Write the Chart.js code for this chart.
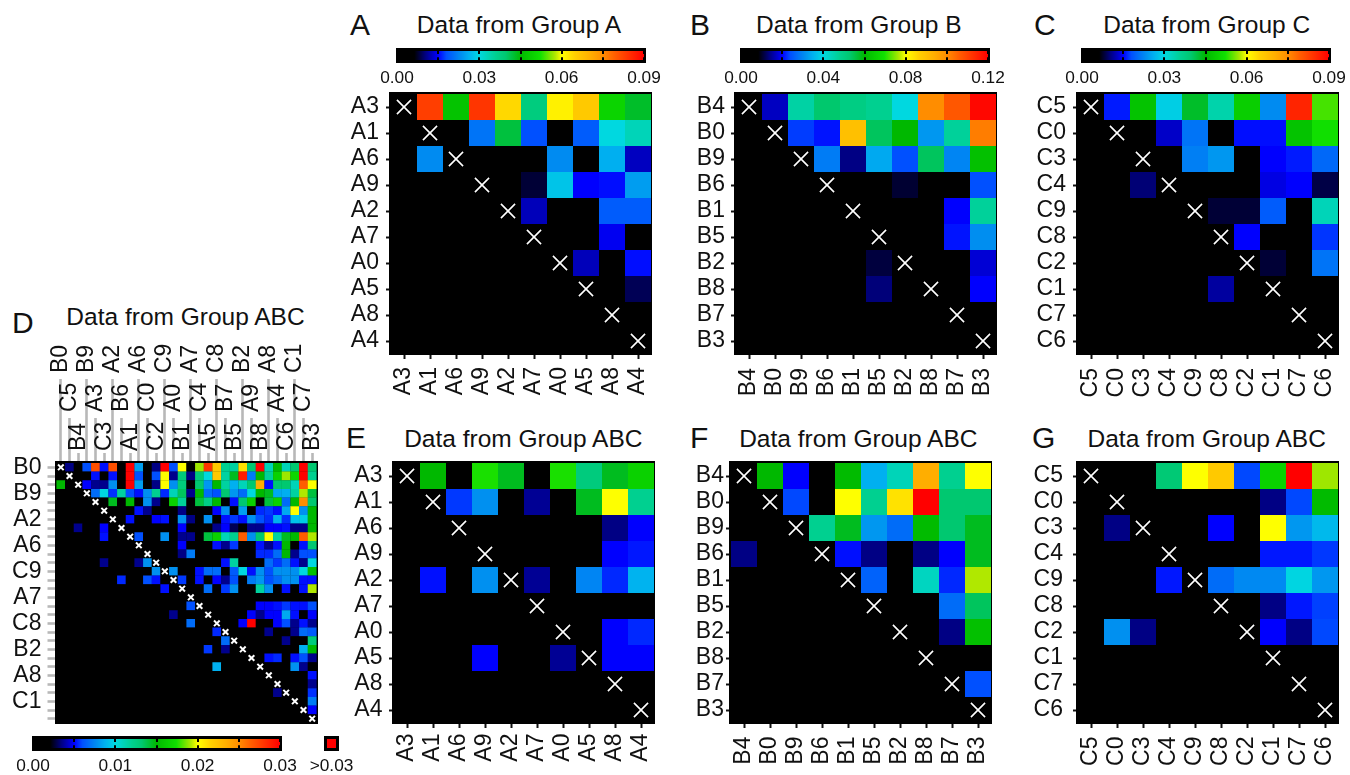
<!DOCTYPE html>
<html>
<head>
<meta charset="utf-8">
<script src="https://cdn.jsdelivr.net/npm/chart.js@4"></script>
<style>
    body { margin: 0; background: #fff; overflow: hidden; font-family: "Liberation Sans", sans-serif; color: #111; }
    canvas { position: absolute; }
    .letter { position: absolute; font-size: 30px; line-height: 30px; }
    .title { position: absolute; font-size: 24.5px; line-height: 30px; white-space: nowrap; transform: translateX(-50%); }
</style>
</head>
<body>
<script>
// all values are in units of 0.001
const labelsA = ['A3', 'A1', 'A6', 'A9', 'A2', 'A7', 'A0', 'A5', 'A8', 'A4']
const labelsB = ['B4', 'B0', 'B9', 'B6', 'B1', 'B5', 'B2', 'B8', 'B7', 'B3']
const labelsC = ['C5', 'C0', 'C3', 'C4', 'C9', 'C8', 'C2', 'C1', 'C7', 'C6']
const labelsD = ['B0', 'C5', 'B4', 'B9', 'A3', 'C3', 'A2', 'B6', 'A1', 'A6', 'C0', 'C2', 'C9', 'A0', 'B1',
    'A7', 'C4', 'A5', 'C8', 'B7', 'B5', 'B2', 'A9', 'B8', 'A8', 'A4', 'C6', 'C1', 'C7', 'B3']

const rangeA = 90
const rangeB = 120
const rangeC = 90
const rangeD = 30

const valuesA = [
    [0, 83, 47, 84, 64, 38, 61.5, 66, 50, 43],
    [0, 0, 0, 21, 42, 18, 0, 19, 30, 33],
    [0, 23, 0, 0, 0, 0, 23, 0, 26, 12.7],
    [0, 0, 0, 0, 0, 8, 28, 15, 15.5, 24.5],
    [0, 0, 0, 0, 0, 12.5, 0, 0, 19, 19],
    [0, 0, 0, 0, 0, 0, 0, 0, 14.5, 0],
    [0, 0, 0, 0, 0, 0, 0, 12.5, 0, 15.5],
    [0, 0, 0, 0, 0, 0, 0, 0, 0, 9],
    [0, 0, 0, 0, 0, 0, 0, 0, 0, 0],
    [0, 0, 0, 0, 0, 0, 0, 0, 0, 0],
]
const valuesB = [
    [0, 17, 46, 53, 50, 48, 40, 100, 107, 119],
    [0, 0, 23, 21, 90, 54, 60, 32, 47, 102],
    [0, 0, 0, 29, 14, 34, 24, 54, 30, 62],
    [0, 0, 0, 0, 0, 0, 10.5, 0, 0, 24],
    [0, 0, 0, 0, 0, 0, 0, 0, 20, 47],
    [0, 0, 0, 0, 0, 0, 0, 0, 21, 31],
    [0, 0, 0, 0, 0, 11, 0, 0, 0, 18],
    [0, 0, 0, 0, 0, 13.5, 0, 0, 0, 20],
    [0, 0, 0, 0, 0, 0, 0, 0, 0, 0],
    [0, 0, 0, 0, 0, 0, 0, 0, 0, 0],
]
const valuesC = [
    [0, 16, 47, 29, 43, 34, 49, 23, 86, 54],
    [0, 0, 0, 13, 21, 0, 15.5, 15.5, 47, 52],
    [0, 0, 0, 0, 22, 24, 0, 15, 16, 20],
    [0, 0, 10, 0, 0, 0, 0, 14, 15, 8.5],
    [0, 0, 0, 0, 0, 8, 8, 19, 0, 33],
    [0, 0, 0, 0, 0, 0, 15, 0, 0, 17],
    [0, 0, 0, 0, 0, 0, 0, 8, 0, 21],
    [0, 0, 0, 0, 0, 11.5, 0, 0, 0, 0],
    [0, 0, 0, 0, 0, 0, 0, 0, 0, 0],
    [0, 0, 0, 0, 0, 0, 0, 0, 0, 0],
]
const valuesE = [
    [0, 15, 0, 17.5, 14.5, 0, 17.5, 12.7, 14.5, 16.5],
    [0, 0, 5.7, 7.8, 0, 3.7, 0, 14.5, 20, 12],
    [0, 0, 0, 0, 0, 0, 0, 0, 3.5, 5],
    [0, 0, 0, 0, 0, 0, 0, 0, 5, 5.3],
    [0, 5.2, 0, 7.8, 0, 3.7, 0, 7.5, 5.5, 8.8],
    [0, 0, 0, 0, 0, 0, 0, 0, 0, 0],
    [0, 0, 0, 0, 0, 0, 0, 0, 5, 5.5],
    [0, 0, 0, 5, 0, 0, 3.7, 0, 5, 5],
    [0, 0, 0, 0, 0, 0, 0, 0, 0, 0],
    [0, 0, 0, 0, 0, 0, 0, 0, 0, 0],
]
const valuesF = [
    [0, 15, 5, 0, 15.2, 8.7, 11, 23.5, 12, 20],
    [0, 0, 5.9, 0, 20, 12, 21, 30, 13.2, 13.2],
    [0, 0, 0, 12, 14.5, 8, 6.8, 15.2, 13.2, 14.5],
    [3.5, 0, 0, 0, 5.2, 3.5, 0, 3.5, 5, 14.5],
    [0, 0, 0, 0, 0, 6.5, 0, 10.8, 5.5, 19.2],
    [0, 0, 0, 0, 0, 0, 0, 0, 6.8, 13.5],
    [0, 0, 0, 0, 0, 0, 0, 0, 3.5, 15.5],
    [0, 0, 0, 0, 0, 0, 0, 0, 0, 0],
    [0, 0, 0, 0, 0, 0, 0, 0, 0, 6],
    [0, 0, 0, 0, 0, 0, 0, 0, 0, 0],
]
const valuesG = [
    [0, 0, 0, 13, 20, 22, 5.9, 16.5, 30, 19],
    [0, 0, 0, 0, 0, 0, 0, 3.5, 5.9, 15.2],
    [0, 3.5, 0, 0, 0, 5, 0, 20, 8, 9],
    [0, 0, 0, 0, 0, 0, 0, 5.3, 5.3, 5.7],
    [0, 0, 0, 5.3, 0, 6.8, 7.6, 7.6, 9.9, 8],
    [0, 0, 0, 0, 0, 0, 0, 3.5, 5.3, 5.8],
    [0, 7.8, 3.5, 0, 0, 0, 0, 5, 3.5, 5.9],
    [0, 0, 0, 0, 0, 0, 0, 0, 0, 0],
    [0, 0, 0, 0, 0, 0, 0, 0, 0, 0],
    [0, 0, 0, 0, 0, 0, 0, 0, 0, 0],
]
const valuesD = [
    [0, 3.5, 0, 6, 27, 5.2, 27, 0, 30, 8.2, 0, 3.5, 30, 6, 20, 0, 19, 28, 22, 12, 11.6, 21, 13.2, 30, 11, 15, 11, 13.2, 30, 13.2],
    [0, 0, 0, 0, 5.2, 0, 5.2, 0, 30, 6, 0, 6, 20, 3.6, 12.8, 3.5, 12.8, 10, 22, 11.6, 14.5, 29, 7.2, 15, 11.8, 16.5, 19, 16.8, 30, 12],
    [15, 0, 0, 5, 3.6, 3.6, 7.8, 0, 30, 8.2, 0, 3.5, 20, 7.8, 12.8, 0, 13.2, 8, 15, 11.6, 8.7, 11, 13.2, 23.5, 5.2, 13.2, 13.2, 11, 26.5, 20],
    [0, 0, 0, 0, 6.8, 10, 5.6, 11.6, 6, 5.2, 7.8, 12, 5.5, 11, 13.5, 3.6, 15, 6.8, 6, 13.2, 8, 6.8, 10, 15, 14.5, 8.5, 8.7, 11.6, 19.2, 14],
    [0, 0, 0, 0, 0, 0, 14.5, 0, 15, 0, 7.8, 3.6, 0, 16.5, 11.8, 0, 14, 12.4, 15, 0, 5.2, 13.2, 16.5, 0, 14, 16.5, 6.8, 15, 25, 13.2],
    [0, 0, 0, 0, 0, 0, 0, 0, 0, 5.2, 3.6, 0, 0, 0, 3.5, 0, 0, 0, 5, 7.8, 0, 8.2, 0, 5.5, 5.7, 5.2, 8.5, 20, 7.8, 15],
    [0, 0, 0, 0, 0, 0, 0, 0, 5.2, 0, 0, 5, 5.2, 0, 7.8, 3.5, 0, 7.8, 0, 5.2, 5.7, 5.2, 7.8, 6, 5.5, 8.7, 5.6, 9.3, 9.6, 15],
    [0, 0, 3.6, 0, 0, 5, 0, 0, 0, 0, 0, 0, 0, 0, 5, 0, 0, 0, 3.6, 5, 3, 0, 3.6, 3.6, 5, 5, 5.2, 3.5, 3.6, 15],
    [0, 0, 0, 0, 0, 5.2, 0, 0, 0, 6, 0, 0, 7.8, 0, 3.6, 3.6, 0, 14, 16.5, 11, 12, 26.5, 7.8, 13.2, 20, 11.6, 14.5, 15, 26.5, 19.2],
    [0, 0, 0, 0, 0, 0, 0, 0, 0, 0, 0, 0, 0, 0, 5, 0, 0, 0, 5.2, 3.6, 5.7, 0, 0, 5.2, 3.6, 5.2, 15, 0, 5.2, 13.2],
    [0, 0, 0, 0, 0, 0, 0, 0, 0, 0, 0, 0, 0, 0, 3.5, 7.2, 0, 0, 0, 0, 0, 0, 0, 5.5, 5.5, 6.8, 15, 3.6, 6, 6],
    [0, 0, 0, 0, 0, 3.6, 0, 0, 0, 3.6, 7.8, 0, 0, 0, 0, 0, 0, 0, 0, 5.2, 11.6, 0, 0, 0, 6.8, 5.7, 6.8, 5.2, 3.6, 10],
    [0, 0, 0, 0, 0, 0, 0, 0, 0, 0, 0, 7.8, 0, 7.8, 0, 0, 5.2, 6.8, 6.8, 0, 6.3, 10, 5.2, 7.8, 6, 7.8, 7.8, 7.8, 10, 15.5],
    [0, 0, 0, 0, 0, 0, 0, 5.5, 0, 0, 6, 5.2, 0, 0, 5.7, 0, 5.2, 0, 5, 3.6, 6, 0, 7.2, 8, 6, 6.8, 7.8, 7.8, 5.2, 5.2],
    [0, 0, 0, 0, 0, 0, 0, 0, 0, 0, 0, 0, 5.2, 0, 0, 0, 0, 6.8, 0, 5.7, 7.8, 0, 0, 11.6, 7.8, 0, 5.2, 0, 5.2, 19.2],
    [0, 0, 0, 0, 0, 0, 0, 0, 0, 0, 0, 0, 0, 0, 0, 0, 0, 0, 0, 0, 0, 0, 0, 0, 0, 0, 0, 0, 0, 0],
    [0, 0, 0, 0, 0, 0, 0, 0, 0, 0, 0, 0, 0, 0, 0, 6, 0, 0, 0, 0, 0, 0, 0, 5, 5, 5.2, 5.7, 5.2, 5.2, 6],
    [0, 0, 0, 0, 0, 0, 0, 0, 0, 0, 0, 0, 0, 3.6, 0, 0, 0, 0, 0, 0, 0, 0, 5, 3.6, 5, 5, 8.5, 5.2, 0, 5],
    [0, 0, 0, 0, 0, 0, 0, 0, 0, 0, 0, 0, 0, 0, 0, 6.8, 0, 0, 0, 0, 0, 5, 30, 0, 0, 5, 6, 3.6, 5.2, 3.6],
    [0, 0, 0, 0, 0, 0, 0, 0, 0, 0, 0, 0, 0, 0, 0, 0, 0, 0, 5.5, 0, 0, 0, 0, 0, 3.6, 0, 0, 3.6, 6.8, 6.3],
    [0, 0, 0, 0, 0, 0, 0, 0, 0, 0, 0, 0, 0, 0, 0, 0, 0, 0, 0, 6.8, 0, 0, 0, 0, 0, 0, 3.6, 0, 0, 12.8],
    [0, 0, 0, 0, 0, 0, 0, 0, 0, 0, 0, 0, 0, 0, 0, 0, 0, 5.7, 0, 3.6, 0, 0, 0, 0, 0, 0, 0, 0, 8.7, 15],
    [0, 0, 0, 0, 0, 0, 0, 0, 0, 0, 0, 0, 0, 0, 0, 0, 0, 0, 0, 0, 0, 0, 0, 0, 5.2, 5.5, 0, 5.2, 6, 3.6],
    [0, 0, 0, 0, 0, 0, 0, 0, 0, 0, 0, 0, 0, 0, 0, 0, 0, 0, 8.7, 0, 0, 0, 0, 0, 0, 0, 0, 7.8, 3.6, 0],
    [0, 0, 0, 0, 0, 0, 0, 0, 0, 0, 0, 0, 0, 0, 0, 0, 0, 0, 0, 0, 0, 0, 0, 0, 0, 0, 0, 0, 0, 5.2],
    [0, 0, 0, 0, 0, 0, 0, 0, 0, 0, 0, 0, 0, 0, 0, 0, 0, 0, 0, 0, 0, 0, 0, 0, 0, 0, 0, 0, 0, 3.6],
    [0, 0, 0, 0, 0, 0, 0, 0, 0, 0, 0, 0, 0, 0, 0, 0, 0, 0, 0, 0, 0, 0, 0, 0, 0, 3.6, 0, 0, 0, 5.6],
    [0, 0, 0, 0, 0, 0, 0, 0, 0, 0, 0, 0, 0, 0, 0, 0, 0, 0, 0, 0, 0, 0, 0, 0, 0, 0, 0, 0, 0, 7.2],
    [0, 0, 0, 0, 0, 0, 0, 0, 0, 0, 0, 0, 0, 0, 0, 0, 0, 0, 0, 0, 0, 0, 0, 0, 0, 0, 0, 0, 0, 5],
    [0, 0, 0, 0, 0, 0, 0, 0, 0, 0, 0, 0, 0, 0, 0, 0, 0, 0, 0, 0, 0, 0, 0, 0, 0, 0, 0, 0, 0, 0],
]

// colour map
const colorPositions = [0, 0.07, 0.115, 0.167, 0.2, 0.26, 0.29, 0.333, 0.4, 0.44, 0.5, 0.58, 0.64, 0.667, 0.72, 0.78, 0.83, 0.88, 1]
const colorStops = ['#000000', '#000000', '#000080', '#0000ff', '#0050ff', '#0090f0', '#00b0f0', '#00d8e0', '#00d090', '#00c870',
    '#00b800', '#10e000', '#b0e800', '#ffff00', '#ffd000', '#ffb000', '#ff9000', '#ff6000', '#ff0000']

Chart.defaults.font.family = '"Liberation Sans", sans-serif'
Chart.defaults.color = '#111'

const labelFont = { size: 23 }
const barFont = { size: 17.3 }

function hexToRgb(hex) {
    return [1, 3, 5].map(i => parseInt(hex.substr(i, 2), 16))
}

function getColor(value, range) {
    const t = Math.min(value / range, 1)
    for (let i = 1; i < colorPositions.length; i++) {
        if (t <= colorPositions[i]) {
            const f = (t - colorPositions[i - 1]) / (colorPositions[i] - colorPositions[i - 1])
            const a = hexToRgb(colorStops[i - 1])
            const b = hexToRgb(colorStops[i])
            return `rgb(${a.map((c, k) => Math.round(c + (b[k] - c) * f)).join(',')})`
        }
    }
    return colorStops[colorStops.length - 1]
}

function addCanvas(left, top, width, height) {
    const canvas = document.createElement('canvas')
    canvas.width = width
    canvas.height = height
    canvas.style.left = left + 'px'
    canvas.style.top = top + 'px'
    document.body.appendChild(canvas)
    return canvas
}

function addText(cls, text, left, top) {
    const div = document.createElement('div')
    div.className = cls
    div.textContent = text
    div.style.left = left + 'px'
    div.style.top = top + 'px'
    document.body.appendChild(div)
}

// the layout would otherwise shrink the plot by half a label
function fixSize(scale, width, height) {
    if (width !== null) scale.width = width
    if (height !== null) scale.height = height
    scale.paddingLeft = scale.paddingRight = scale.paddingTop = scale.paddingBottom = 0
}

// black frame behind the cells
function blackBox(l, t, r, b) {
    return {
        id: 'blackBox',
        beforeDatasetsDraw(chart) {
            const area = chart.chartArea
            chart.ctx.save()
            chart.ctx.fillStyle = '#000'
            chart.ctx.fillRect(area.left - l, area.top - t, area.right - area.left + l + r, area.bottom - area.top + t + b)
            chart.ctx.restore()
        }
    }
}

function baseOptions(padding) {
    return {
        responsive: false,
        animation: false,
        events: [],
        layout: { autoPadding: false, padding: padding },
        plugins: { legend: { display: false }, tooltip: { enabled: false } },
    }
}

function getDatasets(labels, values, range, cellSize, crossRadius, crossWidth) {
    const cells = []
    const colors = []
    values.forEach((row, r) => row.forEach((v, c) => {
        cells.push({ x: labels[c], y: labels[r] })
        colors.push(getColor(v, range))
    }))
    return [
        {
            data: labels.map(l => ({ x: l, y: l })),
            pointStyle: 'crossRot',
            pointRadius: crossRadius,
            pointBorderColor: '#fff',
            pointBorderWidth: crossWidth,
        },
        {
            data: cells,
            pointStyle: 'rect',
            pointRadius: cellSize / Math.SQRT2,
            pointBackgroundColor: colors,
            pointBorderWidth: 0,
        },
    ]
}

function smallHeatmap(left, top, labels, values, range, yPad, xPad) {
    const yWidth = 60, xHeight = 50, pad = 6
    new Chart(addCanvas(left - yWidth, top - pad, yWidth + 260 + pad, pad + 260 + xHeight), {
        type: 'scatter',
        data: { datasets: getDatasets(labels, values, range, 26, 10, 1.6) },
        options: {
            ...baseOptions({ left: 0, top: pad, right: pad, bottom: 0 }),
            scales: {
                x: {
                    type: 'category', labels: labels, offset: true,
                    afterFit: s => fixSize(s, null, xHeight),
                    border: { display: false },
                    grid: { drawOnChartArea: false, tickLength: 5, tickWidth: 2, tickColor: '#111' },
                    ticks: { autoSkip: false, minRotation: 90, maxRotation: 90, padding: xPad, font: labelFont },
                },
                y: {
                    type: 'category', labels: labels, offset: true,
                    afterFit: s => fixSize(s, yWidth, null),
                    border: { display: false },
                    grid: { drawOnChartArea: false, tickLength: 5, tickWidth: 2, tickColor: '#111' },
                    ticks: { autoSkip: false, padding: yPad, font: labelFont },
                },
            },
        },
        plugins: [blackBox(2, 2, 1, 1)],
    })
}

// three zero height axes on the same edge, one for each row of staggered labels
function topAxis(level, tickLength, labelOffset) {
    return {
        type: 'category', position: 'top', labels: labelsD, offset: true,
        afterFit: s => fixSize(s, null, 0),
        border: { display: false },
        grid: {
            drawOnChartArea: false, tickLength: tickLength, tickWidth: 2.6,
            tickColor: ctx => ctx.index % 3 == level ? '#b8b8b8' : 'rgba(0,0,0,0)',
        },
        ticks: {
            autoSkip: false, mirror: true, minRotation: 90, maxRotation: 90, padding: -labelOffset, font: labelFont,
            callback: (v, i) => i % 3 == level ? labelsD[i] : '',
        },
    }
}

function bigHeatmap() {
    const top = 463, left = 56.5
    new Chart(addCanvas(0, 330, 330, 400), {
        type: 'scatter',
        data: { datasets: getDatasets(labelsD, valuesD, rangeD, 8.85, 4, 2) },
        options: {
            ...baseOptions({ left: 0, top: top - 330, right: 330 - left - 260, bottom: 400 - (top - 330) - 260 }),
            scales: {
                x: topAxis(0, 84, 90),
                x2: topAxis(1, 45, 51),
                x3: topAxis(2, 10, 12),
                y: {
                    type: 'category', labels: labelsD, offset: true,
                    afterFit: s => fixSize(s, left, null),
                    border: { display: false },
                    grid: { drawOnChartArea: false, tickLength: 9, tickWidth: 2.6, tickColor: '#b8b8b8' },
                    ticks: {
                        autoSkip: false, padding: 6, font: labelFont,
                        callback: (v, i) => i % 3 == 0 ? labelsD[i] : '',
                    },
                },
            },
        },
        plugins: [blackBox(1.5, 2, 1.5, 1)],
    })
}

function colorBar(left, right, top, range) {
    const pad = 30, height = 9, below = 32
    const max = range / 1000
    new Chart(addCanvas(left - pad, top - 6, right - left + pad * 2, 6 + height + below), {
        type: 'bar',
        data: {
            labels: [''],
            datasets: [{
                data: [[0, max]],
                barPercentage: 1,
                categoryPercentage: 1,
                backgroundColor: ctx => {
                    const area = ctx.chart.chartArea
                    if (!area) return '#000'
                    const g = ctx.chart.ctx.createLinearGradient(area.left, 0, area.right, 0)
                    colorPositions.forEach((p, i) => g.addColorStop(p, colorStops[i]))
                    return g
                },
            }],
        },
        options: {
            ...baseOptions({ left: pad, top: 6, right: pad, bottom: 0 }),
            indexAxis: 'y',
            scales: {
                x: {
                    type: 'linear', min: 0, max: max,
                    afterFit: s => fixSize(s, null, below),
                    border: { display: false, dash: [3, 3.2] },
                    grid: { z: 1, color: '#000', lineWidth: 2, drawTicks: false },
                    ticks: {
                        stepSize: max / 6, autoSkip: false, maxRotation: 0, padding: 8, font: barFont,
                        callback: (v, i) => i % 2 == 0 ? v.toFixed(2) : '',
                    },
                },
                y: { display: false },
            },
        },
        plugins: [blackBox(1, 3, 2, 3)],
    })
}

function overflowBox(left, top) {
    const pad = 30, size = 9, below = 28
    new Chart(addCanvas(left - pad, top - 6, pad * 2 + size, 6 + size + below), {
        type: 'bar',
        data: {
            labels: ['>0.03'],
            datasets: [{ data: [1], barPercentage: 1, categoryPercentage: 1, backgroundColor: '#ff0000' }],
        },
        options: {
            ...baseOptions({ left: pad, top: 6, right: pad, bottom: 0 }),
            scales: {
                x: {
                    afterFit: s => fixSize(s, null, below),
                    border: { display: false },
                    grid: { display: false, drawTicks: false },
                    ticks: { maxRotation: 0, autoSkip: false, padding: 8, font: barFont },
                },
                y: { display: false, min: 0, max: 1 },
            },
        },
        plugins: [blackBox(3, 3, 3, 3)],
    })
}

addText('letter', 'A', 350, 9.5)
addText('letter', 'B', 690, 9.5)
addText('letter', 'C', 1034, 9.5)
addText('letter', 'D', 12, 308)
addText('letter', 'E', 346, 423)
addText('letter', 'F', 690, 423)
addText('letter', 'G', 1032, 423)

addText('title', 'Data from Group A', 519, 10)
addText('title', 'Data from Group B', 858.8, 10)
addText('title', 'Data from Group C', 1206.7, 10)
addText('title', 'Data from Group ABC', 185.5, 302)
addText('title', 'Data from Group ABC', 523.3, 424)
addText('title', 'Data from Group ABC', 858.3, 424)
addText('title', 'Data from Group ABC', 1206.7, 424)

colorBar(397, 644, 51, rangeA)
colorBar(741, 988, 51, rangeB)
colorBar(1082, 1329, 51, rangeC)
colorBar(33, 280, 739, rangeD)
overflowBox(326.5, 739)

smallHeatmap(391, 94, labelsA, valuesA, rangeA, 7, 8)
smallHeatmap(736, 94, labelsB, valuesB, rangeB, 6, 9)
smallHeatmap(1078, 94, labelsC, valuesC, rangeC, 7, 9)
smallHeatmap(394, 463, labelsA, valuesE, rangeD, 6.5, 5.5)
smallHeatmap(731, 463, labelsB, valuesF, rangeD, 2, 8.5)
smallHeatmap(1078, 463, labelsC, valuesG, rangeD, 10, 8.5)
bigHeatmap()
</script>
</body>
</html>
